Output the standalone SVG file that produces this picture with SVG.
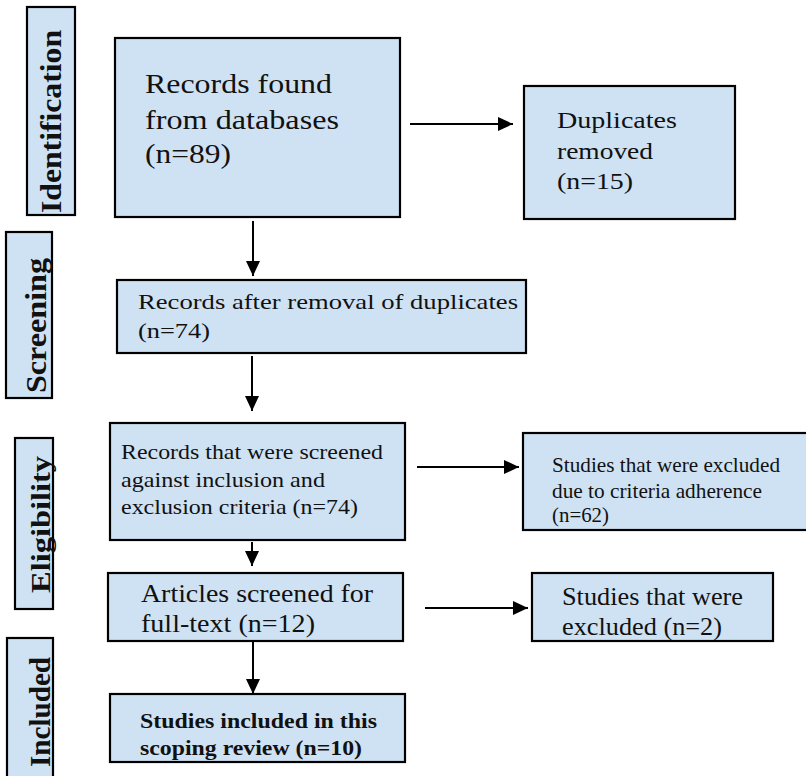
<svg xmlns="http://www.w3.org/2000/svg" width="806" height="776" viewBox="0 0 806 776">
<defs>
<style>
.box{fill:#cfe2f3;stroke:#000;stroke-width:2.2}
.t{font-family:"Liberation Serif","Times New Roman",serif;fill:#111}
.b{font-weight:bold}
.lbl{font-family:"Liberation Serif","Times New Roman",serif;font-weight:bold;font-size:30px;fill:#111;text-anchor:middle}
.c{stroke:#000;stroke-width:2;fill:none;marker-end:url(#ah)}
</style>
<marker id="ah" markerUnits="userSpaceOnUse" markerWidth="16" markerHeight="14" refX="15" refY="7" orient="auto">
<path d="M0,0 L15,7 L0,14 z" fill="#000"/>
</marker>
</defs>
<rect width="806" height="776" fill="#fff"/>

<g id="stage-identification">
<rect class="box" x="27" y="7" width="48" height="208"/>
<text class="lbl" transform="translate(61 121.5) rotate(-90)" x="0" y="0" textLength="183" lengthAdjust="spacingAndGlyphs">Identification</text>
</g>
<g id="stage-screening">
<rect class="box" x="6" y="232" width="46" height="166"/>
<text class="lbl" transform="translate(46 325.5) rotate(-90)" x="0" y="0" textLength="135" lengthAdjust="spacingAndGlyphs">Screening</text>
</g>
<g id="stage-eligibility">
<rect class="box" x="15" y="438" width="38" height="171"/>
<text class="lbl" transform="translate(50 524.5) rotate(-90)" x="0" y="0" textLength="137" lengthAdjust="spacingAndGlyphs" style="font-size:28px">Eligibility</text>
</g>
<g id="stage-included">
<rect class="box" x="7" y="638" width="46" height="150"/>
<text class="lbl" transform="translate(50 712) rotate(-90)" x="0" y="0" textLength="110" lengthAdjust="spacingAndGlyphs">Included</text>
</g>

<g id="records-found">
<rect class="box" x="115" y="38" width="285" height="179"/>
<text class="t" font-size="27" x="145" y="93" textLength="187" lengthAdjust="spacingAndGlyphs">Records found</text>
<text class="t" font-size="27" x="145" y="129" textLength="194" lengthAdjust="spacingAndGlyphs">from databases</text>
<text class="t" font-size="27" x="145" y="163" textLength="86" lengthAdjust="spacingAndGlyphs">(n=89)</text>
</g>

<g id="duplicates-removed">
<rect class="box" x="524" y="86" width="211" height="133"/>
<text class="t" font-size="24" x="557" y="128" textLength="120" lengthAdjust="spacingAndGlyphs">Duplicates</text>
<text class="t" font-size="24" x="557" y="159" textLength="96" lengthAdjust="spacingAndGlyphs">removed</text>
<text class="t" font-size="24" x="557" y="189" textLength="76" lengthAdjust="spacingAndGlyphs">(n=15)</text>
</g>

<g id="after-duplicates">
<rect class="box" x="117" y="280" width="409" height="73"/>
<text class="t" font-size="22" x="138" y="309" textLength="380" lengthAdjust="spacingAndGlyphs">Records after removal of duplicates</text>
<text class="t" font-size="22" x="138" y="338" textLength="72" lengthAdjust="spacingAndGlyphs">(n=74)</text>
</g>

<g id="screened-criteria">
<rect class="box" x="110" y="423" width="295" height="117"/>
<text class="t" font-size="22" x="121" y="459" textLength="262" lengthAdjust="spacingAndGlyphs">Records that were screened</text>
<text class="t" font-size="22" x="121" y="487" textLength="204" lengthAdjust="spacingAndGlyphs">against inclusion and</text>
<text class="t" font-size="22" x="121" y="514" textLength="237" lengthAdjust="spacingAndGlyphs">exclusion criteria (n=74)</text>
</g>

<g id="excluded-criteria">
<rect class="box" x="523" y="433" width="300" height="97"/>
<text class="t" font-size="21" x="552" y="472" textLength="228" lengthAdjust="spacingAndGlyphs">Studies that were excluded</text>
<text class="t" font-size="21" x="552" y="498" textLength="210" lengthAdjust="spacingAndGlyphs">due to criteria adherence</text>
<text class="t" font-size="21" x="552" y="522" textLength="57" lengthAdjust="spacingAndGlyphs">(n=62)</text>
</g>

<g id="full-text">
<rect class="box" x="108" y="573" width="295" height="68"/>
<text class="t" font-size="26" x="141" y="602" textLength="232" lengthAdjust="spacingAndGlyphs">Articles screened for</text>
<text class="t" font-size="26" x="141" y="632" textLength="174" lengthAdjust="spacingAndGlyphs">full-text (n=12)</text>
</g>

<g id="excluded-two">
<rect class="box" x="532" y="573" width="241" height="68"/>
<text class="t" font-size="26" x="562" y="605" textLength="181" lengthAdjust="spacingAndGlyphs">Studies that were</text>
<text class="t" font-size="26" x="562" y="635" textLength="160" lengthAdjust="spacingAndGlyphs">excluded (n=2)</text>
</g>

<g id="included-review">
<rect class="box" x="110" y="694" width="295" height="68"/>
<text class="t b" font-size="20" x="140" y="728" textLength="237" lengthAdjust="spacingAndGlyphs">Studies included in this</text>
<text class="t b" font-size="20" x="140" y="755" textLength="222" lengthAdjust="spacingAndGlyphs">scoping review (n=10)</text>
</g>

<g id="connectors">
<line class="c" x1="410" y1="124" x2="513" y2="124"/>
<line class="c" x1="253" y1="221" x2="253" y2="276"/>
<line class="c" x1="252" y1="356" x2="252" y2="411"/>
<line class="c" x1="417" y1="467" x2="519" y2="467"/>
<line class="c" x1="252" y1="542" x2="252" y2="566"/>
<line class="c" x1="425" y1="608" x2="528" y2="608"/>
<line class="c" x1="253" y1="641" x2="253" y2="694"/>
</g>
</svg>
